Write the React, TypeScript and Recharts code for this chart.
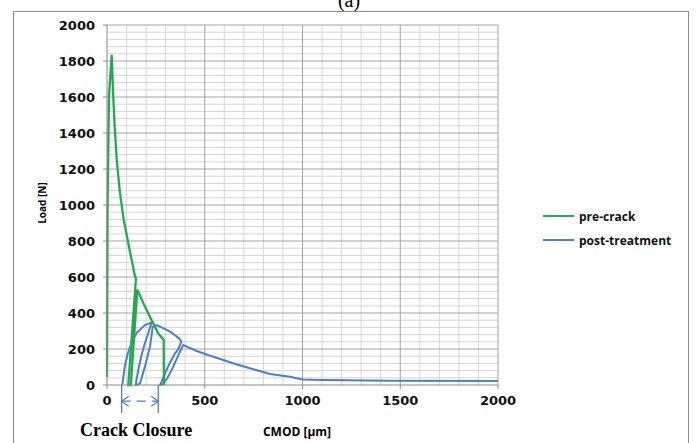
import { LineChart, Line, XAxis, YAxis, ReferenceLine } from "recharts";

// CMOD [µm] / Load [N], in drawing order (loops included)
const preCrackCmod = [0, 3, 10, 24, 32, 40, 50, 65, 85, 105, 125, 142, 148, 109, 122, 155, 186, 228, 262, 290, 291];
const preCrackLoad = [45, 1000, 1600, 1835, 1600, 1420, 1250, 1080, 920, 810, 700, 610, 590, 0, 0, 530, 454, 361, 287, 250, 0];

const postCmod = [
  78, 84, 92, 105, 118, 135, 152, 194, 228, 212, 194, 175, 160, 150, 148, 158, 169, 194, 220, 234, 254, 290, 322, 350,
  373, 380, 365, 348, 320, 297, 280, 271, 285, 310, 339, 373, 390, 420, 459, 520, 595, 660, 731, 790, 834, 880, 936,
  970, 1004, 1050, 1107, 1448, 2000,
];
const postLoad = [
  0, 46, 110, 170, 210, 255, 290, 333, 348, 290, 233, 160, 83, 25, 0, 3, 9, 102, 213, 324, 333, 315, 296, 275,
  255, 240, 200, 176, 120, 66, 20, 0, 3, 40, 102, 185, 222, 208, 189, 165, 139, 115, 93, 75, 61, 54, 46,
  38, 31, 29, 28, 24, 22,
];

const xTicks = [0, 500, 1000, 1500, 2000];
const yTicks = [0, 200, 400, 600, 800, 1000, 1200, 1400, 1600, 1800, 2000];
const crackClosure = [75, 262];

const xMinor: number[] = [];
for (let v = 100; v < 2000; v += 100) if (v % 500 !== 0) xMinor.push(v);
const yMinor: number[] = [];
for (let v = 40; v < 2000; v += 40) if (v % 200 !== 0) yMinor.push(v);

const preCrack = preCrackCmod.map((x, i) => ({ cmod: x, load: preCrackLoad[i] }));
const postTreatment = postCmod.map((x, i) => ({ cmod: x, load: postLoad[i] }));

const GREEN = "#26a852";
const BLUE = "#4f7fc0";
const MINOR = "#d4d4d4";
const MAJOR = "#a3a3a3";
const tickFont = { fontFamily: "DejaVu Sans", fontWeight: 700, fontSize: 13, fill: "#111" };

function ArrowShape(props: any) {
  const { x1, y1, x2, y2 } = props;
  if (x1 == null) return null;
  const h = 5;
  return (
    <g stroke={BLUE} strokeWidth={1.3} fill="none">
      <line x1={x1} y1={y1} x2={x2} y2={y2} strokeDasharray="9 6" />
      <polyline points={`${x1 + h + 2},${y1 - h} ${x1},${y1} ${x1 + h + 2},${y1 + h}`} />
      <polyline points={`${x2 - h - 2},${y2 - h} ${x2},${y2} ${x2 - h - 2},${y2 + h}`} />
    </g>
  );
}

export default function App() {
  return (
    <div style={{ position: "absolute", left: 0, top: 0, width: 698, height: 443, overflow: "hidden", background: "#fff" }}>
      <div
        style={{
          position: "absolute",
          left: 13,
          top: 11,
          width: 674,
          height: 440,
          border: "1px solid #8a8a8a",
          borderBottom: "none",
        }}
      />
      <div
        style={{
          position: "absolute",
          left: 0,
          width: 698,
          top: -11,
          textAlign: "center",
          fontFamily: "Liberation Serif",
          fontSize: 20,
        }}
      >
        (a)
      </div>
      <LineChart width={698} height={443} margin={{ top: 25, right: 200, bottom: 28, left: 47 }} style={{ position: "absolute", left: 0, top: 0 }}>
        <XAxis
          dataKey="cmod"
          type="number"
          domain={[0, 2000]}
          ticks={xTicks}
          allowDuplicatedCategory={false}
          height={30}
          tickSize={4}
          tickMargin={7}
          stroke="#8a8a8a"
          tick={tickFont}
        />
        <YAxis
          dataKey="load"
          type="number"
          domain={[0, 2000]}
          ticks={yTicks}
          width={60}
          tickSize={4}
          tickMargin={8}
          stroke="#8a8a8a"
          tick={tickFont}
        />
        {xMinor.map((v) => (
          <ReferenceLine key={`xm${v}`} x={v} stroke={MINOR} />
        ))}
        {yMinor.map((v) => (
          <ReferenceLine key={`ym${v}`} y={v} stroke={MINOR} />
        ))}
        {xTicks.slice(1).map((v) => (
          <ReferenceLine key={`xM${v}`} x={v} stroke={MAJOR} />
        ))}
        {yTicks.slice(1).map((v) => (
          <ReferenceLine key={`yM${v}`} y={v} stroke={MAJOR} />
        ))}
        <Line
          data={postTreatment}
          dataKey="load"
          name="post-treatment"
          type="linear"
          stroke={BLUE}
          strokeWidth={2}
          dot={false}
          isAnimationActive={false}
        />
        <Line
          data={preCrack}
          dataKey="load"
          name="pre-crack"
          type="linear"
          stroke={GREEN}
          strokeWidth={2.3}
          dot={false}
          isAnimationActive={false}
        />
        {crackClosure.map((c) => (
          <ReferenceLine
            key={c}
            segment={[
              { x: c, y: 0 },
              { x: c, y: -155 },
            ]}
            ifOverflow="visible"
            stroke={BLUE}
            strokeWidth={1.3}
          />
        ))}
        <ReferenceLine
          segment={[
            { x: crackClosure[0], y: -90 },
            { x: crackClosure[1], y: -90 },
          ]}
          ifOverflow="visible"
          shape={ArrowShape}
        />
      </LineChart>
      <div
        style={{
          position: "absolute",
          left: 42,
          top: 203,
          transform: "translate(-50%, -50%) rotate(-90deg)",
          fontFamily: "Open Sans",
          fontWeight: 700,
          fontSize: 10,
          whiteSpace: "nowrap",
        }}
      >
        Load [N]
      </div>
      <div
        style={{
          position: "absolute",
          left: 297,
          top: 423,
          transform: "translateX(-50%)",
          fontFamily: "Open Sans",
          fontWeight: 700,
          fontSize: 12,
          whiteSpace: "nowrap",
        }}
      >
        CMOD [µm]
      </div>
      <div
        style={{
          position: "absolute",
          left: 80,
          top: 420,
          fontFamily: "Liberation Serif",
          fontWeight: 700,
          fontSize: 18,
          whiteSpace: "nowrap",
        }}
      >
        Crack Closure
      </div>
      {[
        { label: "pre-crack", color: GREEN, top: 216 },
        { label: "post-treatment", color: BLUE, top: 240 },
      ].map((e) => (
        <div key={e.label} style={{ position: "absolute", left: 543, top: e.top - 9, height: 18, display: "flex", alignItems: "center" }}>
          <div style={{ width: 31, height: 2, background: e.color, marginRight: 5 }} />
          <span style={{ fontFamily: "Open Sans", fontWeight: 700, fontSize: 12, color: "#111" }}>{e.label}</span>
        </div>
      ))}
    </div>
  );
}
